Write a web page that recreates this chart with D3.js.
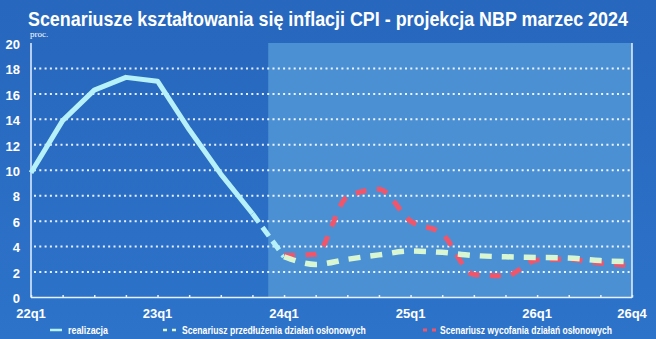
<!DOCTYPE html>
<html>
<head>
<meta charset="utf-8">
<script src="https://cdn.jsdelivr.net/npm/d3@7"></script>
<style>
html,body{margin:0;padding:0;background:#2b6fc6;}
svg{display:block;}
</style>
</head>
<body>
<svg id="chart" width="656" height="339"></svg>
<script>
const quarters = ["22q1","22q2","22q3","22q4","23q1","23q2","23q3","23q4",
  "24q1","24q2","24q3","24q4","25q1","25q2","25q3","25q4","26q1","26q2","26q3","26q4"];
const tickLabels = ["22q1","23q1","24q1","25q1","26q1","26q4"];
const yTicks = [0,2,4,6,8,10,12,14,16,18,20];
const realQuarters = ["22q1","22q2","22q3","22q4","23q1","23q2","23q3","23q4"];
const realizacja = [9.8, 13.9, 16.3, 17.3, 17.0, 13.2, 9.7, 6.6];
const projQuarters = ["24q1","24q2","24q3","24q4","25q1","25q2","25q3","25q4","26q1","26q2","26q3","26q4"];
const przedluzenie = [3.2, 2.6, 3.0, 3.35, 3.65, 3.55, 3.3, 3.2, 3.15, 3.1, 2.9, 2.8];
const wycofanie = [3.3, 3.4, 7.9, 8.5, 6.0, 5.0, 1.8, 1.7, 2.95, 3.0, 2.7, 2.5];
const title = "Scenariusze kształtowania się inflacji CPI - projekcja NBP marzec 2024";
const legendLabels = ["realizacja","Scenariusz przedłużenia działań osłonowych","Scenariusz wycofania działań osłonowych"];

(function () {
const svg = d3.select("#chart");
const W = 656, H = 339;
const pL = 31, pR = 632, pT = 43, pB = 297.5;

const x = d3.scalePoint().domain(quarters).range([pL, pR]);
const y = d3.scaleLinear().domain([0, 20]).range([pB, pT]);

const cReal = "#b6f0f8", cGreen = "#d8f6d2", cRed = "#f0566b";
const ff = "'Liberation Sans Narrow','Liberation Sans',Arial,sans-serif";

// fit text horizontally to a width by scaling (keeps glyph height)
function fitText(sel, x0, y0, width) {
  const w = sel.node().getComputedTextLength();
  const s = w > 0 ? width / w : 1;
  sel.attr("x", 0).attr("y", 0).attr("transform", `translate(${x0},${y0}) scale(${s},1)`);
}

// background
const grad = svg.append("defs").append("linearGradient").attr("id","bg").attr("x1",0).attr("y1",0).attr("x2",0).attr("y2",1);
grad.append("stop").attr("offset","0").attr("stop-color","#2767bd");
grad.append("stop").attr("offset","1").attr("stop-color","#2d73ca");
svg.append("rect").attr("width", W).attr("height", H).attr("fill", "url(#bg)");

// projection shading
const shadeX = (x("23q4") + x("24q1")) / 2;
svg.append("rect").attr("x", shadeX).attr("y", pT).attr("width", pR - shadeX).attr("height", pB - pT)
  .attr("fill", "#4c90d4");

// title
const tt = svg.append("text").text(title)
  .attr("fill", "#ffffff").attr("font-family", ff)
  .attr("font-weight", "bold").attr("font-size", 21);
fitText(tt, 28, 26, 600);

svg.append("text").attr("x", 30).attr("y", 37).text("proc.")
  .attr("fill", "#ffffff").attr("font-family", "'Liberation Serif',serif").attr("font-size", 9);

// gridlines
svg.append("g").selectAll("line").data(yTicks.filter(d => d > 0 && d < 20)).join("line")
  .attr("x1", pL + 3).attr("x2", pR - 2)
  .attr("y1", d => y(d)).attr("y2", d => y(d))
  .attr("stroke", "#ffffff").attr("stroke-opacity", 0.9).attr("stroke-width", 2)
  .attr("stroke-dasharray", "2,3.3");

// axes lines
const axG = svg.append("g").attr("stroke", "#e6f2ff").attr("stroke-width", 1.5).attr("fill", "none");
axG.append("line").attr("x1", pL).attr("x2", pL).attr("y1", pT).attr("y2", pB);
axG.append("line").attr("x1", pL).attr("x2", pR).attr("y1", pB).attr("y2", pB);
axG.append("line").attr("x1", pR).attr("x2", pR).attr("y1", pT).attr("y2", pB);

// x ticks (small)
const xAxis = d3.axisBottom(x).tickSize(-2.5).tickFormat("");
const gx = svg.append("g").attr("transform", `translate(0,${pB})`).call(xAxis);
gx.select(".domain").remove();
gx.selectAll(".tick line").attr("stroke", "#e6f2ff").attr("stroke-width", 1.5);

// x labels
svg.append("g").selectAll("text").data(tickLabels).join("text")
  .attr("x", d => x(d)).attr("y", 318).attr("text-anchor", "middle").text(d => d)
  .attr("fill", "#ffffff").attr("font-family", ff)
  .attr("font-weight", "bold").attr("font-size", 13);

// y labels
const yAxis = d3.axisLeft(y).tickValues(yTicks).tickSize(0).tickPadding(0);
const gy = svg.append("g").attr("transform", `translate(20,0)`).call(yAxis);
gy.select(".domain").remove();
gy.selectAll(".tick text").attr("fill", "#ffffff")
  .attr("font-family", ff)
  .attr("font-weight", "bold").attr("font-size", 13).attr("dy", "0.4em");

// lines
const line = d3.line().x(d => x(d.q)).y(d => y(d.v));
const curved = d3.line().x(d => x(d.q)).y(d => y(d.v)).curve(d3.curveMonotoneX);
const realData = realQuarters.map((q, i) => ({q, v: realizacja[i]}));
const greenData = projQuarters.map((q, i) => ({q, v: przedluzenie[i]}));
const redData = projQuarters.map((q, i) => ({q, v: wycofanie[i]}));
const bridge = [realData[realData.length - 1], greenData[0]];

svg.append("path").datum(realData).attr("d", line).attr("fill", "none")
  .attr("stroke", cReal).attr("stroke-width", 5).attr("stroke-linejoin", "round");
svg.append("path").datum(bridge).attr("d", line).attr("fill", "none")
  .attr("stroke", cReal).attr("stroke-width", 5).attr("stroke-dasharray", "11,6");
svg.append("path").datum(redData).attr("d", curved).attr("fill", "none")
  .attr("stroke", cRed).attr("stroke-width", 5).attr("stroke-dasharray", "11,10.5");
svg.append("path").datum(greenData).attr("d", curved).attr("fill", "none")
  .attr("stroke", cGreen).attr("stroke-width", 5.5).attr("stroke-dasharray", "12,10");

// legend
const lg = svg.append("g");
lg.append("line").attr("x1", 50).attr("x2", 62).attr("y1", 330).attr("y2", 330)
  .attr("stroke", cReal).attr("stroke-width", 2.5);
lg.append("line").attr("x1", 163).attr("x2", 176).attr("y1", 330).attr("y2", 330)
  .attr("stroke", cGreen).attr("stroke-width", 2.5).attr("stroke-dasharray", "4,5");
lg.append("line").attr("x1", 423).attr("x2", 436).attr("y1", 330).attr("y2", 330)
  .attr("stroke", cRed).attr("stroke-width", 3).attr("stroke-dasharray", "4,5");
const legPos = [[68, 40], [182, 184], [440, 172]];
legendLabels.forEach((d, i) => {
  const t = lg.append("text").text(d)
    .attr("fill", "#ffffff").attr("font-family", ff).attr("font-weight", "bold").attr("font-size", 10);
  fitText(t, legPos[i][0], 334, legPos[i][1]);
});
})();
</script>
</body>
</html>
